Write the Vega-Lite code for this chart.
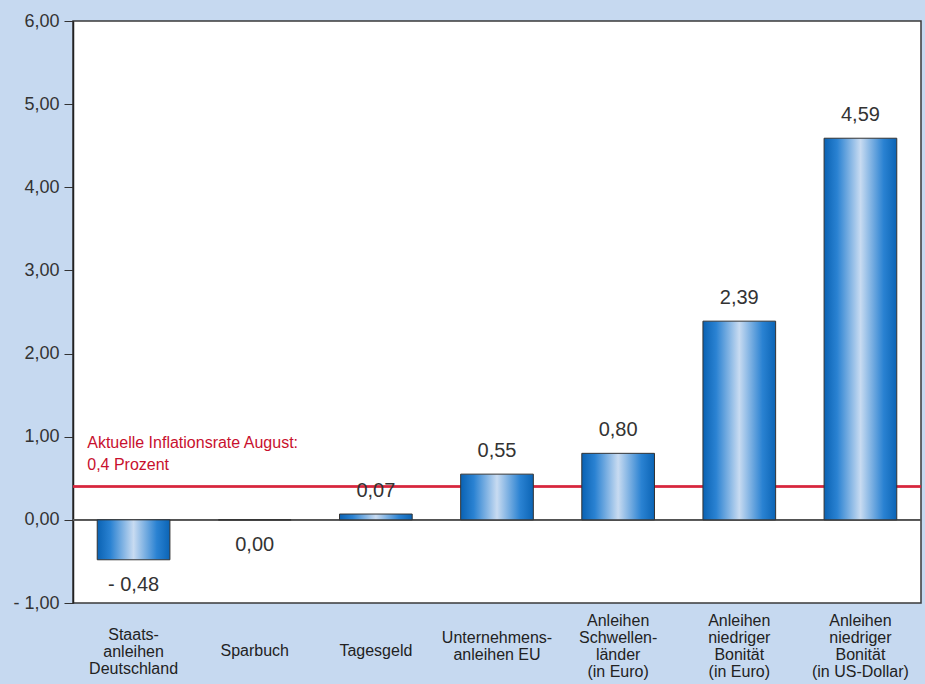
{
  "$schema": "https://vega.github.io/schema/vega-lite/v6.json",
  "autosize": {"type": "none"},
  "width": 848,
  "height": 582,
  "padding": {"left": 73, "top": 21, "right": 4, "bottom": 81},
  "background": "#c6d9f0",
  "config": {
    "font": "Liberation Sans",
    "view": {"fill": "white", "stroke": "#3a3a3a", "strokeWidth": 1.5},
    "locale": {"number": {"decimal": ",", "thousands": ".", "grouping": [3], "currency": ["", " €"], "minus": "- "}},
    "axis": {"grid": false}
  },
  "data": {
    "values": [
      {"kategorie": "Staats-|anleihen|Deutschland", "wert": -0.48},
      {"kategorie": "Sparbuch", "wert": 0.0},
      {"kategorie": "Tagesgeld", "wert": 0.07},
      {"kategorie": "Unternehmens-|anleihen EU", "wert": 0.55},
      {"kategorie": "Anleihen|Schwellen-|länder|(in Euro)", "wert": 0.80},
      {"kategorie": "Anleihen|niedriger|Bonität|(in Euro)", "wert": 2.39},
      {"kategorie": "Anleihen|niedriger|Bonität|(in US-Dollar)", "wert": 4.59}
    ]
  },
  "encoding": {
    "x": {
      "field": "kategorie",
      "type": "nominal",
      "sort": null,
      "scale": {"paddingInner": 0.4, "paddingOuter": 0.2},
      "axis": {
        "title": null,
        "domain": false,
        "ticks": false,
        "labelAngle": 0,
        "labelExpr": "split(datum.label, '|')",
        "labelFontSize": 16,
        "labelLineHeight": 17.3,
        "labelColor": "#222",
        "labelBaseline": "middle",
        "labelLimit": 300,
        "labelPadding": {
          "condition": [
            {"test": "length(split(datum.value, '|')) == 4", "value": 17},
            {"test": "length(split(datum.value, '|')) == 3", "value": 31},
            {"test": "length(split(datum.value, '|')) == 2", "value": 34}
          ],
          "value": 47
        }
      }
    },
    "y": {
      "field": "wert",
      "type": "quantitative",
      "scale": {"domain": [-1, 6], "nice": false, "zero": false},
      "axis": {
        "title": null,
        "values": [-1, 0, 1, 2, 3, 4, 5, 6],
        "format": ".2f",
        "labelFontSize": 18,
        "labelColor": "#333",
        "labelPadding": 5,
        "tickSize": 9,
        "tickColor": "#333",
        "domainColor": "#222",
        "domainWidth": 1.5
      }
    }
  },
  "layer": [
    {
      "mark": {"type": "rule", "color": "#555555", "strokeWidth": 1},
      "encoding": {"y": {"datum": 0}, "x": null}
    },
    {
      "mark": {"type": "rule", "color": "#d7263d", "strokeWidth": 1.5},
      "encoding": {"y": {"datum": 0.4}, "x": null}
    },
    {
      "mark": {
        "type": "bar",
        "stroke": "#333333",
        "strokeWidth": 1,
        "color": {
          "gradient": "linear",
          "x1": 0, "x2": 1, "y1": 0, "y2": 0,
          "stops": [
            {"offset": 0, "color": "#0a62b3"},
            {"offset": 0.18, "color": "#2a82d2"},
            {"offset": 0.5, "color": "#c8dbf1"},
            {"offset": 0.82, "color": "#2a82d2"},
            {"offset": 1, "color": "#0b64b5"}
          ]
        }
      },
      "encoding": {"y2": {"datum": 0}}
    },
    {
      "transform": [{"filter": "datum.wert > 0"}],
      "mark": {"type": "text", "baseline": "bottom", "dy": -13, "fontSize": 20, "color": "#333"},
      "encoding": {"text": {"field": "wert", "type": "quantitative", "format": ".2f"}}
    },
    {
      "transform": [{"filter": "datum.wert <= 0"}],
      "mark": {"type": "text", "baseline": "top", "dy": 15, "fontSize": 20, "color": "#333"},
      "encoding": {"text": {"field": "wert", "type": "quantitative", "format": ".2f"}}
    },
    {
      "data": {"values": [{"notiz": ["Aktuelle Inflationsrate August:", "0,4 Prozent"], "rate": 0.4, "kategorie": "Staats-|anleihen|Deutschland"}]},
      "mark": {"type": "text", "align": "left", "baseline": "bottom", "dx": -10, "dy": -36, "fontSize": 16, "lineHeight": 22, "color": "#c8102e"},
      "encoding": {
        "x": {"field": "kategorie", "type": "nominal", "bandPosition": 0},
        "y": {"field": "rate", "type": "quantitative"},
        "text": {"field": "notiz"}
      }
    }
  ]
}
